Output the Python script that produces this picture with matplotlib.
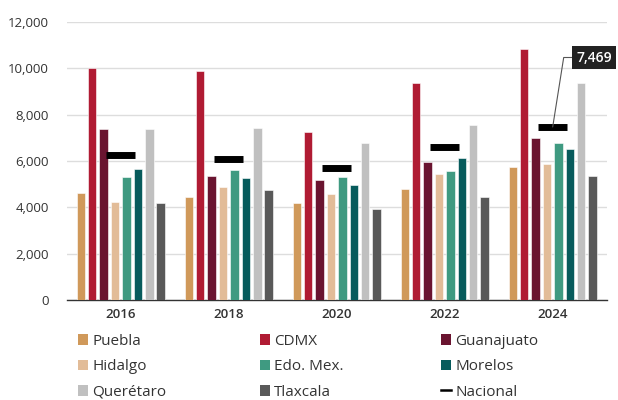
import matplotlib
matplotlib.use("Agg")
import matplotlib.pyplot as plt
import numpy as np
from matplotlib.patches import Patch
from matplotlib.lines import Line2D

plt.rcParams['font.family'] = ['Open Sans', 'DejaVu Sans']

years = ["2016", "2018", "2020", "2022", "2024"]
series_names = ["Puebla", "CDMX", "Guanajuato", "Hidalgo", "Edo. Mex.",
                "Morelos", "Querétaro", "Tlaxcala"]
puebla     = [4600, 4450, 4200, 4790, 5760]
cdmx       = [10000, 9880, 7270, 9380, 10850]
guanajuato = [7370, 5350, 5190, 5960, 6980]
hidalgo    = [4250, 4890, 4590, 5450, 5860]
edomex     = [5300, 5600, 5300, 5550, 6760]
morelos    = [5640, 5250, 4950, 6110, 6500]
queretaro  = [7370, 7420, 6760, 7570, 9380]
tlaxcala   = [4200, 4730, 3940, 4430, 5350]
nacional   = [6250, 6100, 5700, 6600, 7469]
colors = ["#D0995A", "#B01B33", "#6A1430", "#E2BC98", "#3F9A81",
          "#075B5C", "#C0C0C0", "#595959"]

all_series = [puebla, cdmx, guanajuato, hidalgo, edomex, morelos, queretaro, tlaxcala]

fig = plt.figure(figsize=(6.18, 4.0), dpi=100)
ax = fig.add_axes([0.108, 0.25, 0.8737, 0.695])

x = np.arange(len(years))
pitch = 0.1056
width = 0.079
n = len(all_series)
for i, (vals, c) in enumerate(zip(all_series, colors)):
    off = (i - (n - 1) / 2) * pitch
    ax.bar(x + off, vals, width=width, color=c, edgecolor="white", linewidth=0.4, zorder=3)

ax.hlines(nacional, x - 0.135, x + 0.135, colors="black", linewidth=5, zorder=4)

ax.set_xlim(-0.5, len(years) - 0.5)
ax.set_ylim(0, 12000)
ax.set_yticks(np.arange(0, 12001, 2000))
ax.set_yticklabels([f"{v:,}" for v in range(0, 12001, 2000)])
ax.set_xticks(x)
ax.set_xticklabels(years, fontweight="semibold")
ax.tick_params(axis="both", length=0, labelsize=9.5, colors="#333333")
ax.tick_params(axis="x", pad=6)
ax.tick_params(axis="y", pad=13)
ax.grid(axis="y", color="#DDDDDD", linewidth=1, zorder=0)
for s in ["top", "right", "left"]:
    ax.spines[s].set_visible(False)
ax.spines["bottom"].set_color("#333333")
ax.spines["bottom"].set_linewidth(1)

ax.annotate(f"{nacional[-1]:,}", xy=(x[-1], nacional[-1]), xycoords="data",
            xytext=(594, 400 - 57.5), textcoords="figure pixels",
            ha="center", va="center", color="white", fontsize=10, fontweight="semibold",
            bbox=dict(boxstyle="square,pad=0.3", fc="#222222", ec="none"),
            arrowprops=dict(arrowstyle="-", color="#555555", lw=0.8,
                            connectionstyle="angle,angleA=0,angleB=81,rad=0",
                            shrinkA=0, shrinkB=0),
            annotation_clip=False, zorder=6)

# legend, three columns placed by hand
h = [Patch(facecolor=c, edgecolor="none") for c in colors]
nac = Line2D([0], [0], color="black", lw=1.8)
cols = [
    ([h[0], h[3], h[6]], [series_names[0], series_names[3], series_names[6]], 78),
    ([h[1], h[4], h[7]], [series_names[1], series_names[4], series_names[7]], 260),
    ([h[2], h[5], nac], [series_names[2], series_names[5], "Nacional"], 441),
]
for handles, labels, px in cols:
    fig.legend(handles, labels, loc="upper left", bbox_to_anchor=(px / 618, 1 - 334 / 400),
               frameon=False, fontsize=11, handlelength=0.68, handleheight=0.68,
               handletextpad=0.25, labelspacing=0.68, borderaxespad=0, borderpad=0,
               labelcolor="#333333")

fig.savefig("out.png", dpi=100)
